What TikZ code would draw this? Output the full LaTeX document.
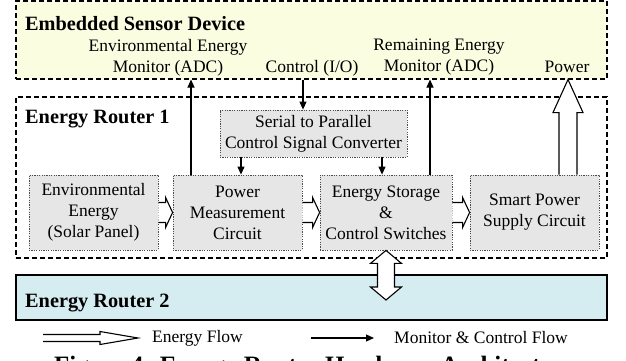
\documentclass[tikz,border=0pt]{standalone}
\usepackage{fontspec}
\setmainfont{Liberation Serif}
\usetikzlibrary{arrows.meta,calc}
\definecolor{esdfill}{HTML}{FAFDE0}
\definecolor{ertwofill}{HTML}{D5EDF1}
\definecolor{unitfill}{HTML}{E6E6E6}
\newcommand\harrow[2]{%
  \draw[eflow] ($(#1.east)+(0,-10)$) -- ($(#2.west)+(-7,-10)$) -- ($(#2.west)+(-7,-15)$)
    -- (#2.west) -- ($(#2.west)+(-7,15)$) -- ($(#2.west)+(-7,10)$) -- ($(#1.east)+(0,10)$);}
\begin{document}
\begin{tikzpicture}[x=1pt,y=-1pt,
  txt/.style={font=\fontsize{17.5}{21}\selectfont, align=center, inner sep=0pt},
  heading/.style={font=\fontsize{20.3}{24}\selectfont\bfseries, inner sep=0pt, anchor=base west},
  region/.style={draw, line width=1.1pt, dash pattern=on 5pt off 3pt, inner sep=0pt, minimum width=591pt},
  unit/.style={draw=black!70, fill=unitfill, line width=0.8pt, dash pattern=on 1.2pt off 1.2pt,
    inner sep=0pt, align=center, font=\fontsize{17.5}{21}\selectfont, minimum height=75pt},
  mon/.style={line width=1.1pt, -{Triangle[length=8pt,width=7pt]}},
  eflow/.style={draw, line width=1.1pt, fill=white, line join=miter}
]
\useasboundingbox (0,0) rectangle (626,361);
\fill[white] (0,0) rectangle (626,361);

% regions
\node[region, fill=esdfill, minimum height=78pt] (esd) at (311.5,40) {};
\node[region, minimum height=161pt] (erone) at (311.5,177.5) {};
\node[draw, line width=1.1pt, fill=ertwofill, inner sep=0pt, minimum width=591pt, minimum height=45pt] (ertwo) at (311.5,297.5) {};

\node[heading] (esdt) at (25,31) {Embedded Sensor Device};
\node[heading] (eronet) at (25,123) {Energy Router 1};
\node[heading] (ertwot) at (25,307) {Energy Router 2};

% labels in sensor device
\node[txt] (lenv) at (168,57.5) {Environmental Energy\\Monitor (ADC)};
\node[txt] (lctl) at (312,68) {Control (I/O)};
\node[txt] (lrem) at (439,57.5) {Remaining Energy\\Monitor (ADC)};
\node[txt] (lpow) at (567,67) {Power};

% units
\node[unit, minimum width=187pt, minimum height=47pt] (ser) at (313.5,133.5) {Serial to Parallel\\Control Signal Converter};
\node[unit, minimum width=129pt] (env) at (93.5,212.5) {Environmental\\Energy\\(Solar Panel)};
\node[unit, minimum width=129pt] (pm) at (237.5,212.5) {Power\\Measurement\\Circuit};
\node[unit, minimum width=132pt] (es) at (386,212.5) {Energy Storage\\\&\\Control Switches};
\node[unit, minimum width=129pt] (sp) at (534.5,212.5) {Smart Power\\Supply Circuit};

% energy flows between units
\harrow{env}{pm}
\harrow{pm}{es}
\harrow{es}{sp}

% power arrow up to sensor device
\coordinate (ptip) at ([xshift=33.5pt]sp.north |- esd.south);
\coordinate (pbot) at ([xshift=33.5pt]sp.north);
\draw[eflow] ($(pbot)+(-9,0)$) -- ($(ptip)+(-9,33)$) -- ($(ptip)+(-15,33)$) -- (ptip)
  -- ($(ptip)+(15,33)$) -- ($(ptip)+(9,33)$) -- ($(pbot)+(9,0)$);

% double arrow between routers
\coordinate (dtop) at (es.south);
\coordinate (dbot) at ($(es.south |- ertwo.center)+(0,2.5)$);
\draw[eflow] (dtop) -- ($(dtop)+(15.5,13)$) -- ($(dtop)+(8.5,13)$) -- ($(dbot)+(8.5,-13)$)
  -- ($(dbot)+(15.5,-13)$) -- (dbot) -- ($(dbot)+(-15.5,-13)$) -- ($(dbot)+(-8.5,-13)$)
  -- ($(dtop)+(-8.5,13)$) -- ($(dtop)+(-15.5,13)$) -- cycle;

% monitor and control flows
\draw[mon] ([xshift=-10.5pt]ser.north |- esd.south) -- ([xshift=-10.5pt]ser.north);
\draw[mon] (ser.south -| pm.north) ++(3.5,0) coordinate (sa) -- (sa |- pm.north);
\draw[mon] (ser.south -| es.north) ++(-4,0) coordinate (sb) -- (sb |- es.north);
\draw[mon] ([xshift=-46.5pt]pm.north) -- ([xshift=-46.5pt]pm.north |- esd.south);
\draw[mon] ([xshift=44pt]es.north) -- ([xshift=44pt]es.north |- esd.south);

% legend
\coordinate (lea) at (43,338);
\coordinate (leb) at (138,338);
\draw[eflow] ($(lea)+(0,-3.5)$) -- ($(lea)+(57,-3.5)$) -- ($(lea)+(57,-6.5)$) -- (leb)
  -- ($(lea)+(57,6.5)$) -- ($(lea)+(57,3.5)$) -- ($(lea)+(0,3.5)$);
\node[txt, anchor=west] (lef) at (152,338) {Energy Flow};
\coordinate (lma) at (311,338);
\coordinate (lmb) at (374,338);
\draw[mon] (lma) -- (lmb);
\node[txt, anchor=west] (lmf) at (394,338) {Monitor \& Control Flow};

% caption (cut by the frame, as in the reference)
\node[font=\fontsize{25}{30}\selectfont\bfseries, anchor=base, inner sep=0pt] (cap) at (315,373)
  {Figure 4: Energy Router Hardware Architecture};
\end{tikzpicture}
\end{document}
